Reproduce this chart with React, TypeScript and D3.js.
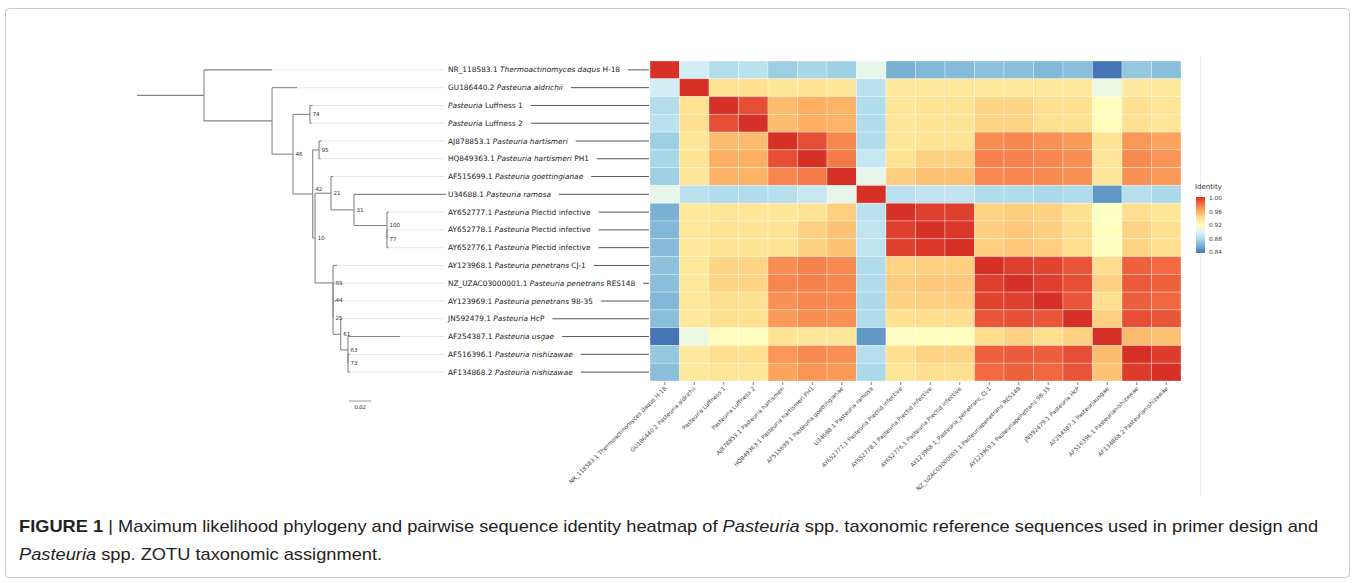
import React, { useEffect, useRef } from 'react';
import * as d3 from 'd3';

// leaf / row labels, italic parts between *...*
const leafLabels = [
  'NR_118583.1 *Thermoactinomyces daqus* H-18',
  'GU186440.2 *Pasteuria aldrichii*',
  '*Pasteuria* Luffness 1',
  '*Pasteuria* Luffness 2',
  'AJ878853.1 *Pasteuria hartismeri*',
  'HQ849363.1 *Pasteuria hartismeri* PH1',
  'AF515699.1 *Pasteuria goettingianae*',
  'U34688.1 *Pasteuria ramosa*',
  'AY652777.1 *Pasteuria* Plectid infective',
  'AY652778.1 *Pasteuria* Plectid infective',
  'AY652776.1 *Pasteuria* Plectid infective',
  'AY123968.1 *Pasteuria penetrans* CJ-1',
  'NZ_UZAC03000001.1 *Pasteuria penetrans* RES148',
  'AY123969.1 *Pasteuria penetrans* 98-35',
  'JN592479.1 *Pasteuria* HcP',
  'AF254387.1 *Pasteuria usgae*',
  'AF516396.1 *Pasteuria nishizawae*',
  'AF134868.2 *Pasteuria nishizawae*',
];

const colLabels = [
  'NR_118583.1 Thermoactinomyces daqus H-18',
  'GU186440.2 Pasteuria aldrichii',
  'Pasteuria Luffness 1',
  'Pasteuria Luffness 2',
  'AJ878853.1 Pasteuria hartismeri',
  'HQ849363.1 Pasteuria hartismeri PH1',
  'AF515699.1 Pasteuria goettingianae',
  'U34688.1 Pasteuria ramosa',
  'AY652777.1 Pasteuria Plectid infective',
  'AY652778.1 Pasteuria Plectid infective',
  'AY652776.1 Pasteuria Plectid infective',
  'AY123968.1_Pasteuria_penetrans_CJ-1',
  'NZ_UZAC03000001.1 Pasteuriapenetrans RES148',
  'AY123969.1 Pasteuriapenetrans 98-35',
  'JN592479.1 Pasteuria HcP',
  'AF254387.1 Pasteuriausgae',
  'AF516396.1 Pasteurianishizawae',
  'AF134868.2 Pasteurianishizawae',
];

// pairwise identity, one row per sequence
const identityRows = [
  [1.0, 0.895, 0.883, 0.886, 0.875, 0.879, 0.876, 0.905, 0.862, 0.865, 0.866, 0.869, 0.868, 0.865, 0.868, 0.84, 0.872, 0.868],
  [0.895, 1.0, 0.938, 0.94, 0.936, 0.938, 0.936, 0.886, 0.935, 0.935, 0.935, 0.935, 0.935, 0.935, 0.935, 0.908, 0.934, 0.934],
  [0.883, 0.938, 1.0, 0.99, 0.955, 0.96, 0.958, 0.882, 0.936, 0.938, 0.938, 0.945, 0.945, 0.94, 0.94, 0.921, 0.94, 0.937],
  [0.886, 0.94, 0.99, 1.0, 0.955, 0.96, 0.958, 0.882, 0.937, 0.938, 0.938, 0.945, 0.945, 0.94, 0.94, 0.921, 0.94, 0.937],
  [0.875, 0.936, 0.955, 0.955, 1.0, 0.99, 0.972, 0.882, 0.936, 0.938, 0.938, 0.97, 0.972, 0.969, 0.966, 0.938, 0.967, 0.963],
  [0.879, 0.938, 0.96, 0.96, 0.99, 1.0, 0.976, 0.89, 0.938, 0.946, 0.946, 0.974, 0.974, 0.972, 0.97, 0.936, 0.971, 0.968],
  [0.876, 0.936, 0.958, 0.958, 0.972, 0.976, 1.0, 0.905, 0.947, 0.952, 0.952, 0.971, 0.972, 0.971, 0.969, 0.936, 0.969, 0.966],
  [0.905, 0.886, 0.882, 0.882, 0.884, 0.89, 0.905, 1.0, 0.886, 0.888, 0.888, 0.882, 0.882, 0.88, 0.882, 0.852, 0.884, 0.88],
  [0.862, 0.935, 0.936, 0.937, 0.936, 0.938, 0.947, 0.886, 1.0, 0.995, 0.995, 0.945, 0.948, 0.946, 0.94, 0.918, 0.94, 0.937],
  [0.865, 0.935, 0.938, 0.938, 0.938, 0.946, 0.952, 0.888, 0.995, 1.0, 0.998, 0.947, 0.95, 0.947, 0.941, 0.92, 0.945, 0.94],
  [0.866, 0.935, 0.938, 0.938, 0.938, 0.946, 0.952, 0.888, 0.995, 0.998, 1.0, 0.947, 0.95, 0.947, 0.941, 0.92, 0.945, 0.94],
  [0.869, 0.935, 0.945, 0.945, 0.97, 0.974, 0.971, 0.882, 0.945, 0.947, 0.947, 1.0, 0.995, 0.993, 0.988, 0.941, 0.984, 0.981],
  [0.868, 0.935, 0.945, 0.945, 0.972, 0.974, 0.972, 0.882, 0.948, 0.95, 0.95, 0.995, 1.0, 0.995, 0.99, 0.946, 0.986, 0.984],
  [0.865, 0.935, 0.94, 0.94, 0.969, 0.972, 0.971, 0.88, 0.946, 0.947, 0.947, 0.993, 0.995, 1.0, 0.988, 0.94, 0.985, 0.982],
  [0.868, 0.935, 0.94, 0.94, 0.966, 0.97, 0.969, 0.882, 0.94, 0.941, 0.941, 0.988, 0.99, 0.988, 1.0, 0.946, 0.99, 0.988],
  [0.84, 0.908, 0.921, 0.921, 0.938, 0.936, 0.936, 0.852, 0.918, 0.92, 0.92, 0.941, 0.946, 0.94, 0.946, 1.0, 0.955, 0.952],
  [0.872, 0.934, 0.94, 0.94, 0.967, 0.971, 0.969, 0.884, 0.94, 0.945, 0.945, 0.984, 0.986, 0.985, 0.99, 0.955, 1.0, 0.996],
  [0.868, 0.934, 0.937, 0.937, 0.963, 0.968, 0.966, 0.88, 0.937, 0.94, 0.94, 0.981, 0.984, 0.982, 0.988, 0.952, 0.996, 1.0],
];

const colorTicks = [1.0, 0.96, 0.92, 0.88, 0.84];

// ML tree: support label, branch length, children (leaf = row index)
type TNode = { leaf?: number; support?: string; len: number; children?: TNode[] };
const leaf = (i: number, len: number): TNode => ({ leaf: i, len });
const clade = (support: string, len: number, ...children: TNode[]): TNode => ({ support, len, children });

const tree = clade('', 0.06,
  leaf(0, 0.061),
  clade('', 0.061,
    leaf(1, 0.0224),
    clade('46', 0.0188,
      clade('74', 0.0152, leaf(2, 0.0024), leaf(3, 0.0015)),
      clade('42', 0.0177,
        clade('95', 0.0057, leaf(4, 0.0024), leaf(5, 0.0015)),
        clade('10', 0.0021,
          clade('21', 0.0143,
            leaf(6, 0.0018),
            clade('31', 0.0206,
              leaf(7, 0.0825),
              clade('100', 0.0296, leaf(8, 0.0018), clade('77', 0, leaf(9, 0.0013), leaf(10, 0.0013))))),
          clade('89', 0.0161,
            leaf(11, 0.0036),
            clade('44', 0, leaf(12, 0.0018),
              clade('25', 0, leaf(13, 0.0027),
                clade('61', 0.0069, leaf(14, 0.0012),
                  clade('63', 0.0065, leaf(15, 0.0466),
                    clade('73', 0, leaf(16, 0.0018), leaf(17, 0.0018))))))))))));

const W = 1355;
const H = 583;

export default function App() {
  const svgRef = useRef<SVGSVGElement>(null);

  useEffect(() => {
    if (!svgRef.current) return;
    const svg = d3.select(svgRef.current);
    svg.selectAll('*').remove();

    svg.append('rect').attr('width', W).attr('height', H).attr('fill', '#fff');
    svg.append('rect')
      .attr('x', 5.5).attr('y', 8.5).attr('width', 1344).attr('height', 569)
      .attr('rx', 4).attr('fill', 'none').attr('stroke', '#c8c8c8');

    const n = leafLabels.length;
    const rowY = d3.scaleBand<number>().domain(d3.range(n)).range([61, 381]);
    const colX = d3.scaleBand<number>().domain(d3.range(n)).range([650, 1181]);
    const xTree = d3.scaleLinear().domain([0, 0.1]).range([204, 315.5]);
    const labelX = 448;

    // faint plot frame line on the right
    svg.append('line')
      .attr('x1', 1200.5).attr('x2', 1200.5).attr('y1', 56).attr('y2', 496)
      .attr('stroke', '#ececec');

    // ---- tree ----
    const root = d3.hierarchy<TNode>(tree, d => d.children);
    const dist = new Map<any, number>();
    const ypos = new Map<any, number>();
    root.eachBefore(d => {
      dist.set(d, d.parent ? (dist.get(d.parent) as number) + d.data.len : 0);
    });
    root.eachAfter(d => {
      if (d.children) {
        const c = d.children;
        ypos.set(d, ((ypos.get(c[0]) as number) + (ypos.get(c[c.length - 1]) as number)) / 2);
      } else {
        ypos.set(d, (rowY(d.data.leaf as number) as number) + rowY.bandwidth() / 2);
      }
    });

    const g = svg.append('g');
    // faint guides from leaf tip to label
    root.leaves().forEach(d => {
      const x = xTree(dist.get(d) as number);
      if (x < labelX - 6) {
        g.append('line')
          .attr('x1', x).attr('x2', labelX - 3)
          .attr('y1', ypos.get(d)).attr('y2', ypos.get(d))
          .attr('stroke', '#e6e6e6').attr('stroke-width', 1);
      }
    });
    const stroke = '#858585';
    g.append('line')
      .attr('x1', xTree(-root.data.len)).attr('x2', xTree(0))
      .attr('y1', ypos.get(root)).attr('y2', ypos.get(root))
      .attr('stroke', stroke).attr('stroke-width', 1.1);
    root.descendants().forEach(d => {
      const x = xTree(dist.get(d) as number);
      const y = ypos.get(d) as number;
      if (d.parent) {
        g.append('line')
          .attr('x1', xTree(dist.get(d.parent) as number)).attr('x2', x)
          .attr('y1', y).attr('y2', y)
          .attr('stroke', stroke).attr('stroke-width', 1.1);
      }
      if (d.children) {
        const c = d.children;
        g.append('line')
          .attr('x1', x).attr('x2', x)
          .attr('y1', ypos.get(c[0])).attr('y2', ypos.get(c[c.length - 1]))
          .attr('stroke', stroke).attr('stroke-width', 1.1);
      }
    });
    // support values, drawn on top of the branches
    root.descendants().forEach(d => {
      if (!d.children || !d.data.support) return;
      const x = xTree(dist.get(d) as number);
      let y = ypos.get(d) as number;
      // lift the label when it would sit on a horizontal branch
      const onBranch = root.descendants().some(o => o !== d && o.parent &&
        Math.abs((ypos.get(o) as number) - y) < 2.5 &&
        xTree(dist.get(o.parent) as number) <= x + 3 && xTree(dist.get(o) as number) > x + 4);
      if (onBranch) y -= 5;
      g.append('text')
        .attr('x', x + 2.5).attr('y', y)
        .attr('dy', '0.35em')
        .attr('font-family', 'DejaVu Sans, sans-serif')
        .attr('font-size', 5.6)
        .attr('fill', '#333')
        .text(d.data.support);
    });

    // scale bar
    svg.append('line')
      .attr('x1', xTree(0.13)).attr('x2', xTree(0.15))
      .attr('y1', 401).attr('y2', 401)
      .attr('stroke', '#999').attr('stroke-width', 1);
    svg.append('text')
      .attr('x', (xTree(0.13) + xTree(0.15)) / 2).attr('y', 409)
      .attr('text-anchor', 'middle')
      .attr('font-family', 'Liberation Serif, serif')
      .attr('font-size', 6.5).attr('fill', '#333')
      .text('0.02');

    // leaf labels + connectors
    leafLabels.forEach((lab, i) => {
      const y = (rowY(i) as number) + rowY.bandwidth() / 2;
      const t = svg.append('text')
        .attr('x', labelX).attr('y', y).attr('dy', '0.35em')
        .attr('font-family', 'DejaVu Sans, sans-serif')
        .attr('font-size', 7.4).attr('fill', '#222');
      lab.split('*').forEach((part, k) => {
        if (!part) return;
        t.append('tspan').attr('font-style', k % 2 ? 'italic' : 'normal').text(part);
      });
      const w = (t.node() as SVGTextElement).getComputedTextLength();
      svg.append('line')
        .attr('x1', labelX + w + 8).attr('x2', 649)
        .attr('y1', y).attr('y2', y)
        .attr('stroke', '#555').attr('stroke-width', 1);
    });

    // ---- heatmap ----
    const stops = d3.range(9).map(i => 0.84 + i * 0.02);
    const palette = (d3.schemeRdYlBu[9] as readonly string[]).slice().reverse();
    const color = d3.scaleLinear<string>().domain(stops).range(palette)
      .interpolate(d3.interpolateRgb).clamp(true);

    const cells = identityRows.flatMap((row, r) => row.map((v, c) => ({ r, c, v })));
    svg.append('g').selectAll('rect')
      .data(cells)
      .join('rect')
      .attr('x', d => colX(d.c) as number)
      .attr('y', d => rowY(d.r) as number)
      .attr('width', colX.bandwidth())
      .attr('height', rowY.bandwidth())
      .attr('fill', d => color(d.v))
      .attr('stroke', '#fff').attr('stroke-opacity', 0.45).attr('stroke-width', 0.7);

    // bottom ticks + rotated labels
    colLabels.forEach((lab, i) => {
      const cx = (colX(i) as number) + colX.bandwidth() / 2;
      svg.append('line')
        .attr('x1', cx).attr('x2', cx).attr('y1', 382).attr('y2', 385)
        .attr('stroke', '#666').attr('stroke-width', 0.8);
      svg.append('text')
        .attr('transform', `translate(${cx + 2},${389}) rotate(-45)`)
        .attr('text-anchor', 'end')
        .attr('font-family', 'DejaVu Sans, sans-serif')
        .attr('font-size', 5.8).attr('fill', '#444')
        .text(lab);
    });

    // ---- colour bar ----
    const cbY = d3.scaleLinear().domain([0.84, 1.0]).range([252, 198]);
    const defs = svg.append('defs');
    const grad = defs.append('linearGradient').attr('id', 'cbar')
      .attr('x1', 0).attr('y1', 1).attr('x2', 0).attr('y2', 0);
    stops.forEach((s, i) => {
      grad.append('stop').attr('offset', i / (stops.length - 1)).attr('stop-color', color(s));
    });
    svg.append('rect')
      .attr('x', 1196).attr('y', cbY(1.0) - 1)
      .attr('width', 9).attr('height', cbY(0.84) - cbY(1.0) + 2)
      .attr('fill', 'url(#cbar)');
    svg.append('text')
      .attr('x', 1195).attr('y', 189)
      .attr('font-family', 'DejaVu Sans, sans-serif')
      .attr('font-size', 7).attr('fill', '#333')
      .text('Identity');
    colorTicks.forEach(t => {
      svg.append('text')
        .attr('x', 1209).attr('y', cbY(t)).attr('dy', '0.35em')
        .attr('font-family', 'DejaVu Sans, sans-serif')
        .attr('font-size', 5.8).attr('fill', '#444')
        .text(t.toFixed(2));
    });

    // ---- caption ----
    const capX = 19;
    const cap = svg.append('g');
    const line1 = cap.append('text')
      .attr('x', capX).attr('y', 532)
      .attr('font-family', 'Liberation Sans Narrow, Liberation Sans, sans-serif')
      .attr('font-size', 16).attr('fill', '#222');
    line1.append('tspan').attr('font-weight', 'bold').text('FIGURE 1');
    line1.append('tspan').text(' | Maximum likelihood phylogeny and pairwise sequence identity heatmap of ');
    line1.append('tspan').attr('font-style', 'italic').text('Pasteuria');
    line1.append('tspan').text(' spp. taxonomic reference sequences used in primer design and');
    const line2 = cap.append('text')
      .attr('x', capX).attr('y', 560)
      .attr('font-family', 'Liberation Sans Narrow, Liberation Sans, sans-serif')
      .attr('font-size', 16).attr('fill', '#222');
    line2.append('tspan').attr('font-style', 'italic').text('Pasteuria');
    line2.append('tspan').text(' spp. ZOTU taxonomic assignment.');
    const w1 = (line1.node() as SVGTextElement).getComputedTextLength();
    const sx = (1319 - capX) / w1;
    cap.attr('transform', `translate(${capX},0) scale(${sx},1) translate(${-capX},0)`);
  }, []);

  return (
    <div style={{ position: 'absolute', left: 0, top: 0, width: W, height: H, background: '#fff' }}>
      <svg ref={svgRef} width={W} height={H} style={{ display: 'block' }} />
    </div>
  );
}
